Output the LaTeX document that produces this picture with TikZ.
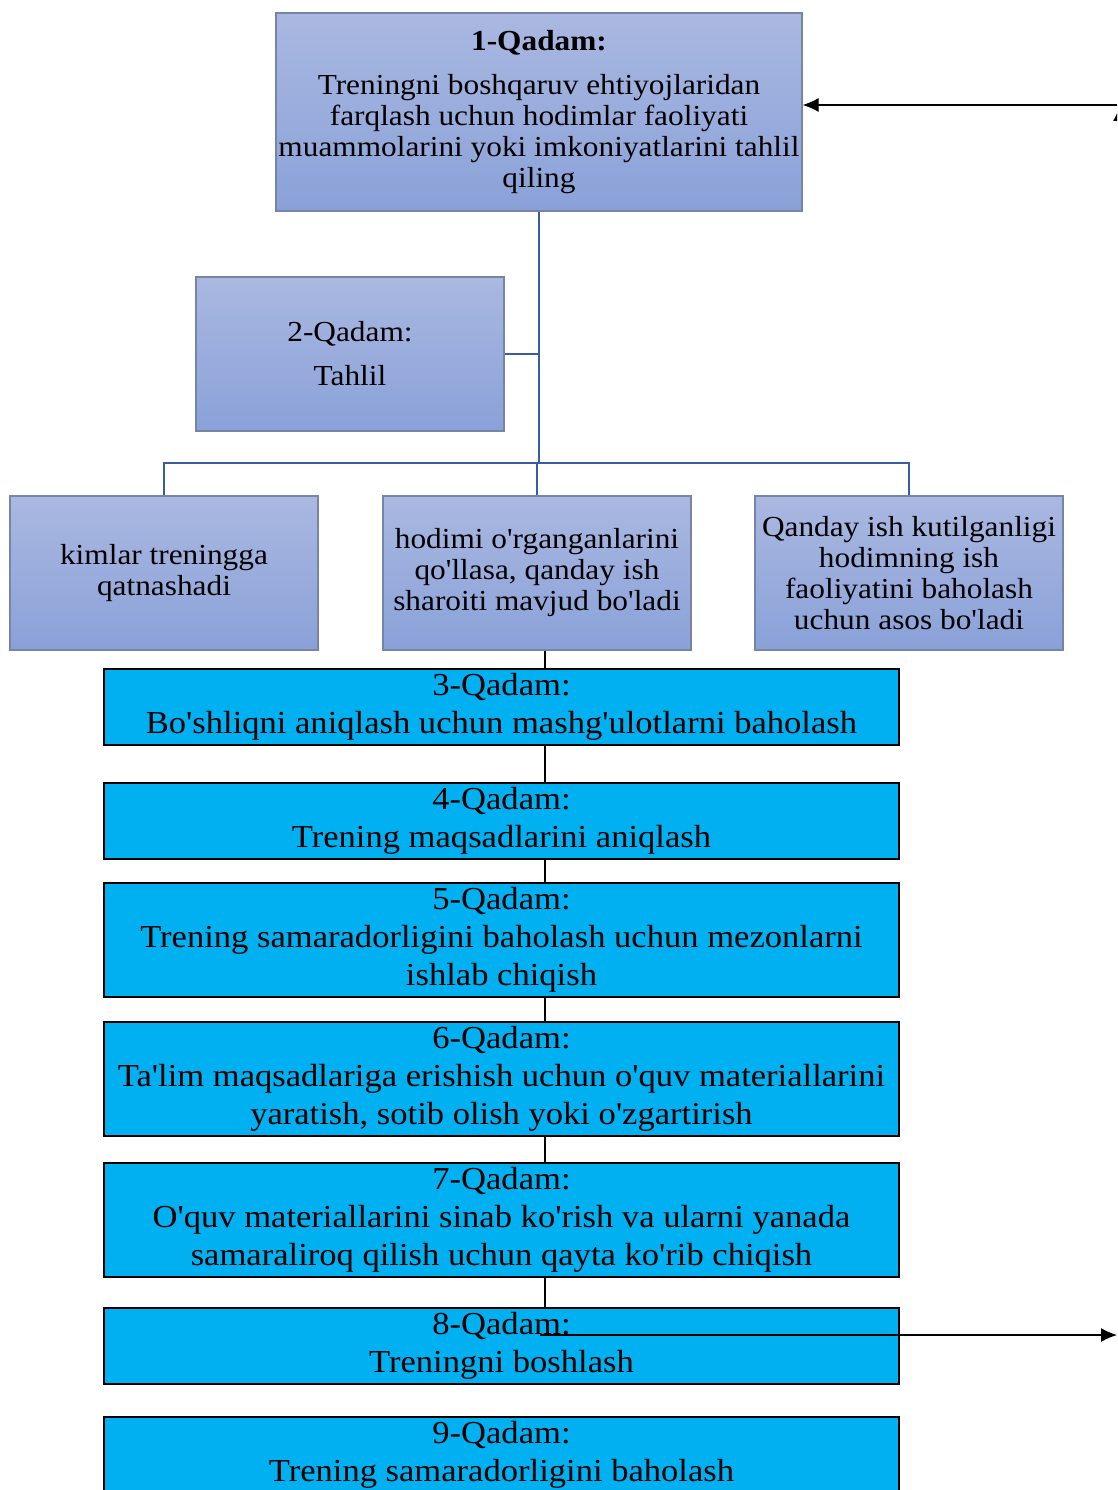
\documentclass[tikz,border=0pt]{standalone}
\usepackage{fontspec}
\setmainfont{Liberation Serif}[Ligatures=TeXOff,FakeStretch=1.08]
\usepackage{xcolor}
\usepackage{tikz}
\usetikzlibrary{arrows.meta}
\definecolor{lavtop}{RGB}{170,184,225}
\definecolor{lavbot}{RGB}{138,161,216}
\definecolor{lavline}{RGB}{118,132,168}
\definecolor{stepblue}{RGB}{0,176,240}
\definecolor{linkblue}{RGB}{58,92,162}

\begin{document}
\begin{tikzpicture}[x=1pt,y=-1pt,
		lavbox/.style={draw=lavline,line width=1.2pt,top color=lavtop,bottom color=lavbot,align=center,inner sep=0pt,font=\fontsize{29}{31}\selectfont},
		stepbox/.style={draw=black,line width=2pt,fill=stepblue,minimum width=795,align=center,inner sep=0pt,font=\fontsize{32}{38}\selectfont},
		bline/.style={linkblue,line width=2.5pt},
		kline/.style={black,line width=2pt},
		arr/.style={black,line width=1.2pt,-{Latex[length=16pt,width=14pt]}}]
		\useasboundingbox (0,0) rectangle (1117,1490);
		\clip (0,0) rectangle (1117,1490);
		
		\node[lavbox,minimum width=526,minimum height=198] (q1) at (539,112) {\textbf{1-Qadam:}\\[13pt]Treningni boshqaruv ehtiyojlaridan\\farqlash uchun hodimlar faoliyati\\muammolarini yoki imkoniyatlarini tahlil\\qiling};
		\node[lavbox,minimum width=308,minimum height=154] (q2) at (350,354) {2-Qadam:\\[13pt]Tahlil};
		\node[lavbox,minimum width=308,minimum height=154] (qa) at (164,573) {kimlar treningga\\qatnashadi};
		\node[lavbox,minimum width=308,minimum height=154] (qb) at (537,573) {hodimi o'rganganlarini\\qo'llasa, qanday ish\\sharoiti mavjud bo'ladi};
		\node[lavbox,minimum width=308,minimum height=154] (qc) at (909,573) {Qanday ish kutilganligi\\hodimning ish\\faoliyatini baholash\\uchun asos bo'ladi};
		
		\coordinate (hub) at (539,463);
		\draw[bline] (q1.south) -- (hub);
		\draw[bline] (q2.east) -- (q2.east -| hub);
		\draw[bline] (qa.north) -- (qa.north |- hub) -- (qc.north |- hub) -- (qc.north);
		\draw[bline] (qb.north) -- (qb.north |- hub);
		
		\foreach \n/\y/\h/\t in {
			3/707/76/{Bo'shliqni aniqlash uchun mashg'ulotlarni baholash},
			4/821/76/{Trening maqsadlarini aniqlash},
			5/940/114/{Trening samaradorligini baholash uchun mezonlarni\\ishlab chiqish},
			6/1079/114/{Ta'lim maqsadlariga erishish uchun o'quv materiallarini\\yaratish, sotib olish yoki o'zgartirish},
			7/1220/114/{O'quv materiallarini sinab ko'rish va ularni yanada\\samaraliroq qilish uchun qayta ko'rib chiqish},
			8/1346/76/{Treningni boshlash},
			9/1455/76/{Trening samaradorligini baholash}}{
			\node[stepbox,minimum height=\h] (s\n) at (501.5,\y) {\n-Qadam:\\\t};
		}
		
		\coordinate (spine) at (545,0);
		\draw[kline] (qb.south -| spine) -- (s3.north -| spine);
		\foreach \a/\b in {3/4,4/5,5/6,6/7,7/8}{
			\draw[kline] (s\a.south -| spine) -- (s\b.north -| spine);
		}
		
		\coordinate (out8) at (540,1335);
		\coordinate (outr) at (1117,1335);
		\coordinate (upb) at (1120,1335);
		\coordinate (upt) at (1120,105);
		\coordinate (back) at (1117,105);
		\draw[arr] (out8) -- (outr);
		\draw[arr] (upb) -- (upt);
		\draw[arr] (back) -- (q1.east |- back);
	\end{tikzpicture}
\end{document}
